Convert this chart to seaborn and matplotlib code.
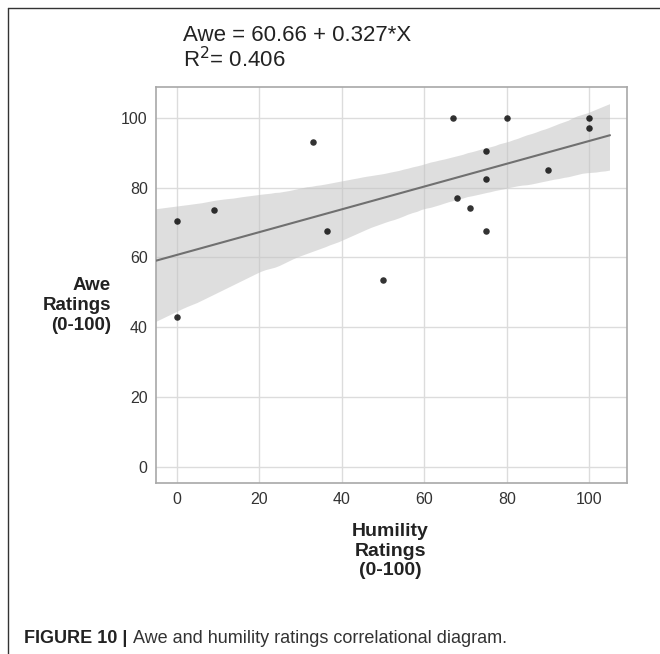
import numpy as np
import pandas as pd
import matplotlib
matplotlib.use("Agg")
import matplotlib.pyplot as plt
import seaborn as sns

# humility vs awe ratings
humility = [0, 0, 9, 33, 36.4, 50, 67, 68, 71, 75, 75, 75, 80, 90, 100, 100]
awe = [70.5, 43, 73.5, 93, 67.5, 53.5, 100, 77, 74, 90.5, 82.5, 67.5, 100, 85, 100, 97]
xticks = [0, 20, 40, 60, 80, 100]
yticks = [0, 20, 40, 60, 80, 100]

df = pd.DataFrame({"humility": humility, "awe": awe})

sns.set_style("whitegrid")
plt.rcParams['font.family'] = ['Liberation Sans', 'DejaVu Sans']

fig = plt.figure(figsize=(6.6, 6.54), dpi=100)
ax = fig.add_axes([0.2364, 0.2610, 0.7141, 0.6064])

# fit line runs from -5 to 105 (axis goes a bit further)
ax.set_xlim(-5, 105)
sns.regplot(data=df, x="humility", y="awe", ax=ax, ci=95, truncate=False,
            scatter_kws=dict(color="black", s=22, linewidths=0, zorder=4),
            line_kws=dict(color="#707070", lw=1.5, zorder=3))
band = ax.collections[1]
band.set_facecolor("#c4c4c4")
band.set_alpha(0.55)
band.set_edgecolor("none")

ax.set_xlim(-5, 109.2)
ax.set_ylim(-4.8, 108.9)
ax.set_xticks(xticks)
ax.set_yticks(yticks)
ax.grid(color="#dcdcdc", lw=1)
ax.set_axisbelow(True)
for sp in ax.spines.values():
    sp.set_color("#a8a8a8")
    sp.set_linewidth(1.2)
ax.tick_params(axis="both", length=4, width=1, color="#a8a8a8",
               labelsize=11.5, labelcolor="#333333", pad=2)
ax.set_xlabel("")
ax.set_ylabel("")

# labels and texts around the plot
fig.text(0.168, 0.533, "Awe\nRatings\n(0-100)", ha="right", va="center",
         multialignment="right", fontsize=13.5, fontweight="bold",
         color="#222222", linespacing=1.2)
fig.text(0.591, 0.157, "Humility\nRatings\n(0-100)", ha="center", va="center",
         multialignment="center", fontsize=14, fontweight="bold",
         color="#222222", linespacing=1.2)
fig.text(0.278, 0.9378, "Awe = 60.66 + 0.327*X", ha="left", va="baseline",
         fontsize=16, color="#222222")
fig.text(0.278, 0.898, "R$^2$= 0.406", ha="left", va="baseline",
         fontsize=16, color="#222222")

# caption: bold part, then the rest placed right after it
cap = fig.text(0.037, 0.0173, "FIGURE 10 |", ha="left", va="baseline",
               fontsize=13, fontweight="bold", color="#222222")
fig.canvas.draw()
bb = cap.get_window_extent().transformed(fig.transFigure.inverted())
fig.text(bb.x1 + 0.008, 0.0173, "Awe and humility ratings correlational diagram.",
         ha="left", va="baseline", fontsize=13, color="#333333")

# outer frame (left and top edges)
fig.add_artist(plt.Line2D([0.012, 0.012], [0.0, 0.988], color="#333333", lw=1))
fig.add_artist(plt.Line2D([0.012, 1.0], [0.988, 0.988], color="#333333", lw=1))

fig.savefig("out.png", dpi=100)
